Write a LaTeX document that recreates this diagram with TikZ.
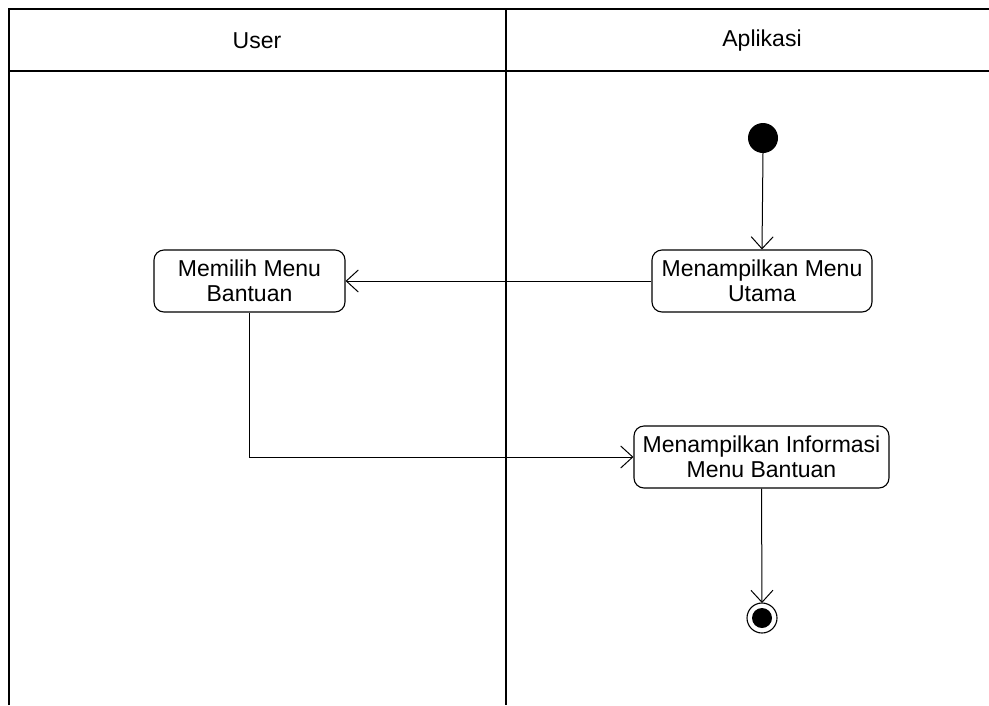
\documentclass[tikz,border=0pt]{standalone}
\usepackage{fontspec}
\setmainfont{Liberation Sans}
\usetikzlibrary{arrows.meta}
\begin{document}
\begin{tikzpicture}[x=1pt,y=-1pt,
  act/.style={draw,line width=1.1pt,rounded corners=10pt,fill=white,align=center,
    font=\fontsize{23}{25}\selectfont,inner sep=0pt},
  flow/.style={line width=1pt,-{Straight Barb[length=12pt,width=22pt,line width=1pt]}},
  lane/.style={line width=1.3pt}]
\useasboundingbox (0,0) rectangle (989,705);
\fill[white] (0,0) rectangle (989,705);
% swimlane frame
\draw[lane] (9,705) -- (9,9) -- (989,9);
\draw[lane] (9,71) -- (989,71);
\draw[line width=2.4pt] (506,9) -- (506,705);
\node[font=\fontsize{23}{25}\selectfont] (hUser) at (257,41) {User};
\node[font=\fontsize{23}{25}\selectfont] (hApp) at (762,41) {Aplikasi};
% activities
\node[act,minimum width=191pt,minimum height=62pt,text depth=0pt] (pilih) at (249.5,281) {Memilih Menu\\Bantuan};
\node[act,minimum width=220pt,minimum height=62pt] (utama) at (762,281) {Menampilkan Menu\\Utama};
\node[act,minimum width=255pt,minimum height=62pt] (info) at (761.5,457) {Menampilkan Informasi\\Menu Bantuan};
% start and end
\fill (763,138) circle (15pt);
\coordinate (start) at (763,153);
\draw[line width=1.1pt] (762,618) circle (15pt);
\fill (762,618) circle (10pt);
\coordinate (stop) at (762,603);
% flows
\draw[flow] (start) -- (utama.north);
\draw[flow] (utama.west) -- (pilih.east);
\draw[flow] (pilih.south) |- (info.west);
\draw[flow] (info.south) -- (stop);
\end{tikzpicture}
\end{document}
